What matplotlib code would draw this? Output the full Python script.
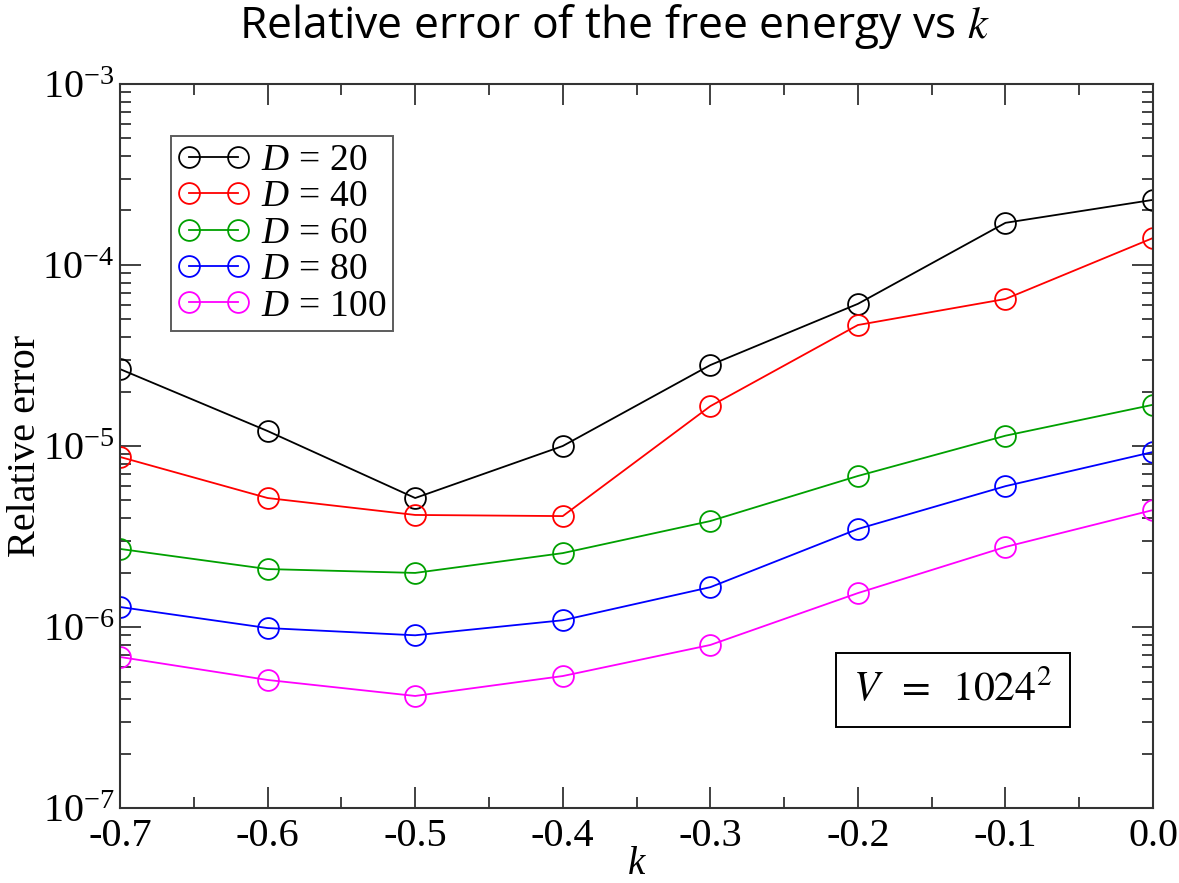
import matplotlib
matplotlib.use("Agg")
import matplotlib.pyplot as plt
from matplotlib.ticker import FixedLocator, MultipleLocator, NullFormatter

plt.rcParams['font.family'] = ['Liberation Serif', 'DejaVu Serif']
plt.rcParams['mathtext.fontset'] = 'custom'
plt.rcParams['mathtext.rm'] = 'Liberation Serif'
plt.rcParams['mathtext.it'] = 'Liberation Serif:italic'
plt.rcParams['axes.unicode_minus'] = False

k = [-0.7, -0.6, -0.5, -0.4, -0.3, -0.2, -0.1, 0.0]
err_d20 = [2.66e-5, 1.21e-5, 5.16e-6, 1.0e-5, 2.8e-5, 6.1e-5, 1.71e-4, 2.29e-4]
err_d40 = [8.7e-6, 5.16e-6, 4.16e-6, 4.1e-6, 1.66e-5, 4.66e-5, 6.49e-5, 1.41e-4]
err_d60 = [2.70e-6, 2.09e-6, 1.99e-6, 2.56e-6, 3.85e-6, 6.83e-6, 1.14e-5, 1.69e-5]
err_d80 = [1.29e-6, 9.87e-7, 9.0e-7, 1.09e-6, 1.66e-6, 3.48e-6, 6.0e-6, 9.27e-6]
err_d100 = [6.83e-7, 5.1e-7, 4.16e-7, 5.36e-7, 7.96e-7, 1.54e-6, 2.77e-6, 4.43e-6]

series = [
    ('20', err_d20, 'black'),
    ('40', err_d40, 'red'),
    ('60', err_d60, '#00a000'),
    ('80', err_d80, 'blue'),
    ('100', err_d100, 'magenta'),
]

yticks = [1e-7, 1e-6, 1e-5, 1e-4, 1e-3]
ytick_labels = [r'$\mathregular{10^{-7}}$', r'$\mathregular{10^{-6}}$', r'$\mathregular{10^{-5}}$',
                r'$\mathregular{10^{-4}}$', r'$\mathregular{10^{-3}}$']
xtick_labels = ['-0.7', '-0.6', '-0.5', '-0.4', '-0.3', '-0.2', '-0.1', '0.0']

fig = plt.figure(figsize=(11.79, 8.83), dpi=100)
ax = fig.add_axes([0.1018, 0.0849, 0.8762, 0.8200])

for d, vals, col in series:
    ax.plot(k, vals, color=col, linewidth=1.3, marker='o', markersize=15,
            markerfacecolor='none', markeredgecolor=col, markeredgewidth=1.3,
            label=r'$D$ = ' + d)

ax.set_yscale('log')
ax.set_xlim(-0.7, 0.0)
ax.set_ylim(1e-7, 1e-3)

ax.xaxis.set_major_locator(FixedLocator(k))
ax.set_xticklabels(xtick_labels)
ax.xaxis.set_minor_locator(MultipleLocator(0.05))
ax.yaxis.set_major_locator(FixedLocator(yticks))
ax.set_yticklabels(ytick_labels)
ax.yaxis.set_minor_formatter(NullFormatter())

ax.tick_params(which='both', direction='in', top=True, right=True, color='#333333')
ax.tick_params(which='major', length=15, width=1.3, labelsize=29, pad=7)
ax.tick_params(which='minor', length=8, width=1.3)
ax.tick_params(axis='y', which='major', pad=4)
for sp in ax.spines.values():
    sp.set_linewidth(1.5)
    sp.set_color('#333333')

ax.set_xlabel(r'$k$', fontsize=28, labelpad=-6)
ax.set_ylabel('Relative error', fontsize=29, labelpad=-1)

leg = ax.legend(loc='upper left', bbox_to_anchor=(0.049, 0.928), numpoints=2,
                fontsize=27, frameon=True, fancybox=False, edgecolor='#333333',
                handlelength=1.9, handletextpad=0.3, borderpad=0.2,
                labelspacing=0.05, borderaxespad=0)
leg.get_frame().set_linewidth(1.4)
for t in leg.get_texts():
    t.set_text(t.get_text().replace(' = ', r'$\,=\,$'))

ax.text(0.806, 0.163, r'$V\;\;=\;\;1024^2$', transform=ax.transAxes, fontsize=30,
        ha='center', va='center', math_fontfamily='stix',
        bbox=dict(boxstyle='square,pad=0.42', facecolor='white', edgecolor='black', linewidth=1.4))

fig.text(0.521, 0.957, r'Relative error of the free energy vs $k$', fontsize=32,
         ha='center', va='baseline', family=['Open Sans', 'DejaVu Sans'], math_fontfamily='stix')

fig.savefig('out.png', dpi=100)
